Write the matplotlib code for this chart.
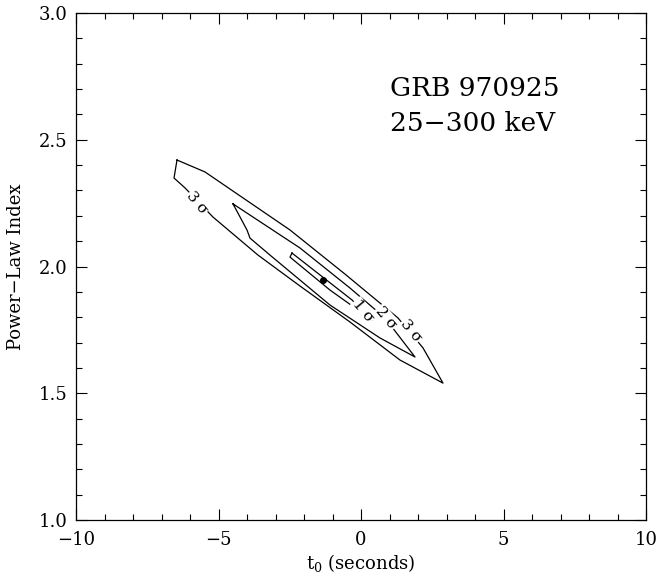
import matplotlib
matplotlib.use("Agg")
import matplotlib.pyplot as plt
from matplotlib.ticker import MultipleLocator

plt.rcParams['font.family'] = ['DejaVu Serif']
plt.rcParams['mathtext.fontset'] = 'dejavuserif'

# Confidence contours (t0 in seconds, power-law index)
sig3_t0 = [-6.456, -5.474, -2.491, -0.561, 1.298, 2.175, 2.877,
           1.368, -0.386, -2.140, -3.614, -5.193, -6.175, -6.561, -6.456]
sig3_idx = [2.420, 2.373, 2.144, 1.970, 1.797, 1.679, 1.540,
            1.631, 1.781, 1.923, 2.045, 2.195, 2.310, 2.349, 2.420]

sig2_t0 = [-4.491, -2.140, -0.386, 0.842, 1.895, 0.667, -1.088, -3.193, -3.895, -4.0, -4.491]
sig2_idx = [2.247, 2.073, 1.915, 1.797, 1.643, 1.718, 1.848, 2.045, 2.112, 2.144, 2.247]

sig1_t0 = [-2.421, -0.316, 0.386, -1.088, -2.491, -2.421]
sig1_idx = [2.053, 1.868, 1.789, 1.907, 2.037, 2.053]

best_t0 = [-1.33]
best_idx = [1.947]

# contour labels: (text, t0, index)
labels = [("3 σ", -5.754, 2.250), ("1 σ", 0.070, 1.824),
          ("2 σ", 0.877, 1.797), ("3 σ", 1.754, 1.746)]

fig = plt.figure(figsize=(6.59, 5.80), dpi=100)
ax = fig.add_axes([76/659, 1-520/580, (646-76)/659, (520-13)/580])

lw = 0.9
ax.plot(sig3_t0, sig3_idx, color='black', lw=lw, zorder=2)
ax.plot(sig2_t0, sig2_idx, color='black', lw=lw, zorder=2)
ax.plot(sig1_t0, sig1_idx, color='black', lw=lw, zorder=2)
ax.plot(best_t0, best_idx, 'o', color='black', ms=4, zorder=3)

for txt, x, y in labels:
    ax.text(x, y, txt, rotation=-50, ha='center', va='center', fontsize=11,
            bbox=dict(boxstyle='square,pad=0.05', fc='white', ec='none'), zorder=4)

ax.text(1.02, 2.704, "GRB 970925", fontsize=19, ha='left', va='center')
ax.text(1.02, 2.566, "25\u2212300 keV", fontsize=19, ha='left', va='center')

ax.set_xlim(-10, 10)
ax.set_ylim(1.0, 3.0)
ax.xaxis.set_major_locator(MultipleLocator(5))
ax.xaxis.set_minor_locator(MultipleLocator(1))
ax.yaxis.set_major_locator(MultipleLocator(0.5))
ax.yaxis.set_minor_locator(MultipleLocator(0.1))
ax.tick_params(which='both', direction='in', top=True, right=True, width=0.8, labelsize=13)
ax.tick_params(which='major', length=8)
ax.tick_params(which='minor', length=4)
ax.tick_params(axis='x', pad=8)
ax.tick_params(axis='y', pad=6)
ax.set_xticks([-10, -5, 0, 5, 10])
ax.set_xticklabels(["\u221210", "\u22125", "0", "5", "10"])
ax.set_yticks([1.0, 1.5, 2.0, 2.5, 3.0])
ax.set_yticklabels(["1.0", "1.5", "2.0", "2.5", "3.0"])
for s in ax.spines.values():
    s.set_linewidth(0.9)

ax.set_xlabel(r"$\mathrm{t_0}$ (seconds)", fontsize=13, labelpad=2)
ax.set_ylabel("Power\u2212Law Index", fontsize=13, labelpad=10)

fig.savefig("out.png", dpi=100)
